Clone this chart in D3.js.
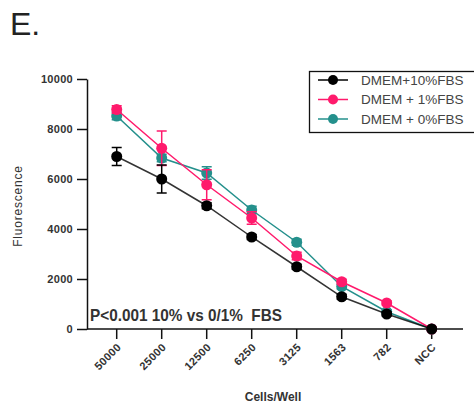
<!DOCTYPE html>
<html><head><meta charset="utf-8">
<script src="https://cdn.jsdelivr.net/npm/d3@7"></script>
<style>body{margin:0;background:#fff;} svg{display:block;}</style>
</head><body>
<svg id="c" width="474" height="405"></svg>
<script>
const categories = ["50000","25000","12500","6250","3125","1563","782","NCC"];
const fbs10 = [6900, 6000, 4930, 3680, 2490, 1290, 600, 0];
const fbs10Err = [360, 560, 120, 100, 100, 100, 80, 0];
const fbs1 = [8780, 7230, 5770, 4440, 2920, 1890, 1040, 0];
const fbs1Err = [150, 690, 600, 250, 150, 100, 80, 0];
const fbs0 = [8520, 6840, 6240, 4760, 3470, 1700, 690, 0];
const fbs0Err = [150, 150, 250, 150, 120, 100, 80, 0];
const yTicks = [0, 2000, 4000, 6000, 8000, 10000];
const seriesNames = ["DMEM+10%FBS", "DMEM + 1%FBS", "DMEM + 0%FBS"];
const colors = ["#000000", "#ff1a6c", "#24908c"];

const svg = d3.select("#c");
const x = d3.scaleLinear().domain([0, categories.length - 1]).range([116.7, 431.7]);
const y = d3.scaleLinear().domain([0, 10000]).range([329, 79]);
const axisColor = "#111";
const ff = "Liberation Sans, Arial, sans-serif";

svg.append("text").attr("x", 10).attr("y", 35).attr("font-family", ff)
  .attr("font-size", 32).attr("fill", "#222").text("E.");

// y axis
const ya = svg.append("g").attr("transform", "translate(87,0)")
  .call(d3.axisLeft(y).tickValues(yTicks).tickSize(10).tickSizeOuter(0).tickFormat(d3.format("d")));
ya.select(".domain").attr("stroke", axisColor).attr("stroke-width", 1.5);
ya.selectAll(".tick line").attr("stroke", axisColor).attr("stroke-width", 1.5);
ya.selectAll(".tick text").attr("font-family", ff).attr("font-size", 11)
  .attr("font-weight", "bold").attr("fill", "#333").attr("x", -14).attr("letter-spacing", 0.3);

// x axis
const xa = svg.append("g").attr("transform", "translate(0,329)");
xa.append("line").attr("x1", 87).attr("x2", 463).attr("stroke", axisColor).attr("stroke-width", 1.5);
const xt = xa.selectAll("g.t").data(categories).join("g").attr("class", "t")
  .attr("transform", (d, i) => `translate(${x(i)},0)`);
xt.append("line").attr("y2", 10).attr("stroke", axisColor).attr("stroke-width", 1.5);
xt.append("text").attr("transform", "translate(5,19) rotate(-45)").attr("text-anchor", "end")
  .attr("font-family", ff).attr("font-size", 11).attr("font-weight", "bold").attr("letter-spacing", 0.3)
  .attr("fill", "#333").text(d => d);

svg.append("text").attr("x", 273).attr("y", 401).attr("text-anchor", "middle")
  .attr("font-family", ff).attr("font-size", 12).attr("font-weight", "bold")
  .attr("fill", "#333").text("Cells/Well");
svg.append("text").attr("transform", "translate(22,206) rotate(-90)").attr("text-anchor", "middle")
  .attr("font-family", ff).attr("font-size", 12).attr("letter-spacing", 0.8)
  .attr("fill", "#333").text("Fluorescence");

svg.append("text").attr("x", 90).attr("y", 321)
  .attr("font-family", ff).attr("font-size", 17).attr("font-weight", "bold")
  .attr("textLength", 192).attr("lengthAdjust", "spacingAndGlyphs")
  .attr("fill", "#333").attr("xml:space", "preserve").text("P<0.001 10% vs 0/1%  FBS");

const series = [
  {v: fbs0, e: fbs0Err, c: colors[2]},
  {v: fbs1, e: fbs1Err, c: colors[1]},
  {v: fbs10, e: fbs10Err, c: colors[0]}
];
const line = d3.line().x((d, i) => x(i)).y(d => y(d));
series.forEach(s => {
  const g = svg.append("g");
  g.append("path").attr("d", line(s.v)).attr("fill", "none").attr("stroke", s.c).attr("stroke-width", 1.5)
    .attr("stroke-opacity", s.c === colors[0] ? 0.8 : 1);
  s.v.forEach((v, i) => {
    if (s.e[i] > 0) {
      const x0 = x(i), y1 = y(v + s.e[i]), y2 = y(v - s.e[i]);
      g.append("line").attr("x1", x0).attr("x2", x0).attr("y1", y1).attr("y2", y2).attr("stroke", s.c).attr("stroke-width", 1.5);
      [y1, y2].forEach(yy => g.append("line").attr("x1", x0 - 5).attr("x2", x0 + 5).attr("y1", yy).attr("y2", yy)
        .attr("stroke", s.c).attr("stroke-width", 1.5));
    }
    g.append("circle").attr("cx", x(i)).attr("cy", y(v)).attr("r", 5.5).attr("fill", s.c);
  });
});

// legend
const lg = svg.append("g");
lg.append("rect").attr("x", 309.5).attr("y", 71.5).attr("width", 170).attr("height", 61)
  .attr("fill", "#fff").attr("stroke", "#111").attr("stroke-width", 1.3);
seriesNames.forEach((n, i) => {
  const yy = 80 + i * 19.5;
  lg.append("line").attr("x1", 318).attr("x2", 348).attr("y1", yy).attr("y2", yy).attr("stroke", colors[i]).attr("stroke-width", 1.5);
  lg.append("circle").attr("cx", 333).attr("cy", yy).attr("r", 5).attr("fill", colors[i]);
  lg.append("text").attr("x", 361).attr("y", yy + 4.5).attr("font-family", ff)
    .attr("font-size", 13.5).attr("fill", "#444").text(n);
});
</script>
</body></html>
